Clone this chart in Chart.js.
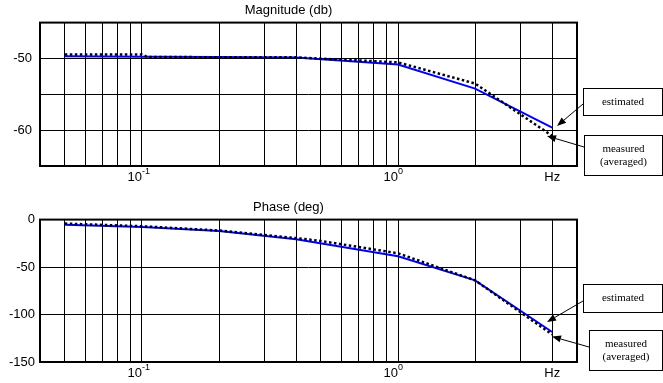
<!DOCTYPE html>
<html>
<head>
<meta charset="utf-8">
<script src="https://cdn.jsdelivr.net/npm/chart.js@4/dist/chart.umd.min.js"></script>
<style>
  html, body { margin: 0; padding: 0; background: #fff; }
  #wrap { position: relative; width: 663px; height: 383px; }
  .box { position: absolute; left: 0; width: 663px; }
</style>
</head>
<body>
<div id="wrap">
  <div class="box" style="top:0;height:190px"><canvas id="mag-canvas"></canvas></div>
  <div class="box" style="top:197px;height:186px"><canvas id="phase-canvas"></canvas></div>
</div>
<script>
// frequencies (Hz) where the curves were sampled
const freqEst  = [0.05, 0.1, 0.2, 0.4, 1, 2, 4];
const freqMeas = [0.05, 0.1, 0.105, 0.4, 1, 2, 4];
const freqMeasPhase = [0.05, 0.1, 0.2, 0.4, 0.5, 1, 2, 4];

// magnitude (db)
const magEst  = [-49.7, -49.75, -49.8, -49.86, -50.84, -54.2, -59.65];
const magMeas = [-49.45, -49.45, -49.8, -49.85, -50.55, -53.5, -60.8];

// phase (deg)
const phaseEst  = [-5.3, -7.8, -12, -20.8, -38.7, -64, -118.4];
const phaseMeas = [-4.2, -7, -11.5, -19.5, -22.5, -35.5, -64, -121];

// x grid lines and x tick labels
const gridFreqs = [0.05, 0.06, 0.07, 0.08, 0.09, 0.1, 0.2, 0.3, 0.4, 0.5, 0.6, 0.7, 0.8, 0.9, 1, 2, 3, 4];
const xLabelVals = [0.1, 1, 4];
const xLabelBase = ["10", "10", "Hz"];
const xLabelExp  = ["-1", "0", ""];

const magLabels   = [-50, -60];
const phaseLabels = [0, -50, -100, -150];

Chart.defaults.font.family = "'Liberation Sans', Arial, sans-serif";
Chart.defaults.font.size = 13;
Chart.defaults.color = "#000";

function zip(xs, ys) {
    return xs.map(function (x, i) { return { x: x, y: ys[i] }; });
}

// frame around the plot area
const framePlugin = {
    id: "frame",
    beforeDatasetsDraw: function (chart) {
        const a = chart.chartArea;
        const ctx = chart.ctx;
        ctx.save();
        ctx.strokeStyle = "#000";
        ctx.lineWidth = 2;
        ctx.strokeRect(a.left, a.top, a.right - a.left, a.bottom - a.top);
        ctx.restore();
    }
};

// x labels with superscript exponents
const decadePlugin = {
    id: "decades",
    afterDraw: function (chart) {
        const xs = chart.scales.x;
        const ctx = chart.ctx;
        const y = chart.chartArea.bottom + 15;
        ctx.save();
        ctx.fillStyle = "#000";
        ctx.textBaseline = "alphabetic";
        xLabelVals.forEach(function (v, i) {
            const px = xs.getPixelForValue(v);
            if (xLabelExp[i]) {
                ctx.font = "13px 'Liberation Sans', Arial, sans-serif";
                ctx.textAlign = "right";
                ctx.fillText(xLabelBase[i], px, y);
                ctx.font = "9px 'Liberation Sans', Arial, sans-serif";
                ctx.textAlign = "left";
                ctx.fillText(xLabelExp[i], px, y - 7);
            } else {
                ctx.font = "13px 'Liberation Sans', Arial, sans-serif";
                ctx.textAlign = "center";
                ctx.fillText(xLabelBase[i], px, y);
            }
        });
        ctx.restore();
    }
};

// text boxes with arrows
const calloutPlugin = {
    id: "callouts",
    afterDraw: function (chart, args, opts) {
        const ctx = chart.ctx;
        ctx.save();
        (opts.items || []).forEach(function (it) {
            const b = it.box;
            ctx.fillStyle = "#fff";
            ctx.fillRect(b[0], b[1], b[2], b[3]);
            ctx.strokeStyle = "#000";
            ctx.lineWidth = 1;
            ctx.strokeRect(b[0] + 0.5, b[1] + 0.5, b[2] - 1, b[3] - 1);
            ctx.fillStyle = "#000";
            ctx.font = "11px 'Liberation Serif', 'Times New Roman', serif";
            ctx.textAlign = "center";
            ctx.textBaseline = "middle";
            const cx = b[0] + b[2] / 2;
            const cy = b[1] + b[3] / 2;
            const lh = 12.5;
            it.text.forEach(function (t, k) {
                ctx.fillText(t, cx, cy + (k - (it.text.length - 1) / 2) * lh);
            });
            // arrow
            const f = it.from, t = it.to;
            const ang = Math.atan2(t[1] - f[1], t[0] - f[0]);
            const len = 9, hw = 3.5;
            const bx = t[0] - len * Math.cos(ang), by = t[1] - len * Math.sin(ang);
            ctx.beginPath();
            ctx.moveTo(f[0], f[1]);
            ctx.lineTo(bx, by);
            ctx.stroke();
            ctx.beginPath();
            ctx.moveTo(t[0], t[1]);
            ctx.lineTo(bx + hw * Math.sin(ang), by - hw * Math.cos(ang));
            ctx.lineTo(bx - hw * Math.sin(ang), by + hw * Math.cos(ang));
            ctx.closePath();
            ctx.fill();
        });
        ctx.restore();
    }
};

function makeChart(canvasId, title, est, meas, measFreqs, yMin, yMax, yStep, yLabels, yPad, xHeight, callouts) {
    const ctx = document.getElementById(canvasId).getContext("2d");
    return new Chart(ctx, {
        type: "line",
        data: {
            datasets: [
                {
                    label: "measured (averaged)",
                    data: zip(measFreqs, meas),
                    borderColor: "#000",
                    borderWidth: 2.5,
                    borderDash: [2.5, 2.5],
                    pointRadius: 0,
                    fill: false
                },
                {
                    label: "estimated",
                    data: zip(freqEst, est),
                    borderColor: "#0000ff",
                    borderWidth: 2,
                    pointRadius: 0,
                    fill: false
                }
            ]
        },
        options: {
            responsive: true,
            maintainAspectRatio: false,
            animation: false,
            layout: { padding: { left: 0, right: 86, top: 0, bottom: 0 } },
            plugins: {
                legend: { display: false },
                tooltip: { enabled: false },
                title: {
                    display: true,
                    text: title,
                    color: "#000",
                    font: { size: 13, weight: "normal" },
                    padding: { top: 3, bottom: 4 }
                },
                callouts: { items: callouts }
            },
            scales: {
                x: {
                    type: "logarithmic",
                    min: 0.04,
                    max: 5,
                    afterBuildTicks: function (scale) {
                        scale.ticks = gridFreqs.map(function (v) { return { value: v }; });
                    },
                    afterFit: function (scale) { scale.height = xHeight; },
                    ticks: { display: false },
                    grid: { color: "#000", lineWidth: 1, drawTicks: false },
                    border: { display: false }
                },
                y: {
                    min: yMin,
                    max: yMax,
                    afterFit: function (scale) { scale.width = 40; },
                    ticks: {
                        stepSize: yStep,
                        padding: yPad,
                        color: "#000",
                        callback: function (v) { return yLabels.indexOf(v) >= 0 ? String(v) : ""; }
                    },
                    grid: { color: "#000", lineWidth: 1, drawTicks: false },
                    border: { display: false }
                }
            }
        },
        plugins: [framePlugin, decadePlugin, calloutPlugin]
    });
}

makeChart("mag-canvas", "Magnitude (db)", magEst, magMeas, freqMeas, -65, -45, 5, magLabels, 8, 24, [
    { text: ["estimated"], box: [583, 88, 80, 28], from: [583, 104], to: [557, 126] },
    { text: ["measured", "(averaged)"], box: [584, 135, 79, 41], from: [584, 147], to: [547, 136] }
]);

makeChart("phase-canvas", "Phase (deg)", phaseEst, phaseMeas, freqMeasPhase, -150, 0, 50, phaseLabels, 5, 21, [
    { text: ["estimated"], box: [583, 87, 80, 29], from: [583, 104], to: [547, 125] },
    { text: ["measured", "(averaged)"], box: [589, 133, 74, 41], from: [589, 150], to: [552, 139.5] }
]);
</script>
</body>
</html>
